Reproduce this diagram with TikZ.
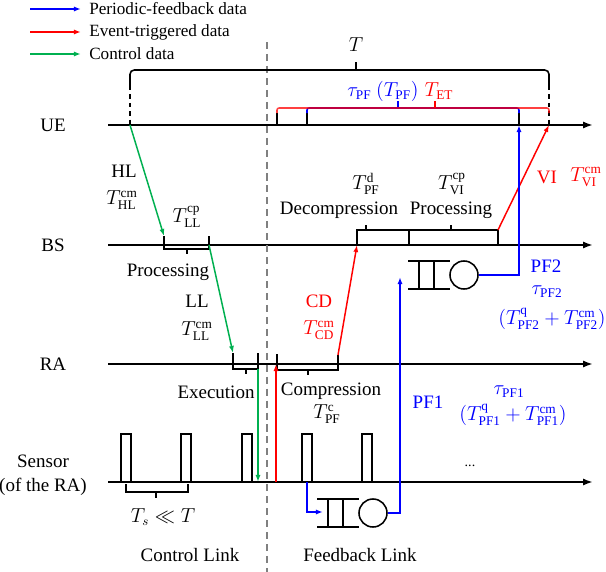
\documentclass[tikz,border=0pt]{standalone}
\usepackage{fontspec}
\setmainfont{Liberation Serif}
\usepackage{amsmath}
\usepackage{xcolor}
\usetikzlibrary{arrows.meta}
\definecolor{color_pf}{rgb}{0,0,1}
\definecolor{color_et}{rgb}{1,0,0}
\definecolor{color_ctl}{rgb}{0,0.690196,0.313725}
\definecolor{color_sep}{rgb}{0.5,0.5,0.5}

\begin{document}
\begin{tikzpicture}[x=0.025cm, y=-0.025cm,
		lbl/.style={inner sep=0pt, font=\fontsize{13.5}{17}\selectfont},
		leg/.style={anchor=west, inner sep=0pt, font=\fontsize{12.2}{14}\selectfont},
		timeline/.style={line width=1.4pt, -{Latex[length=7pt,width=5pt]}},
		tick/.style={line width=1.1pt},
		flow/.style={line width=1.05pt, -{Latex[length=5pt,width=3.6pt]}},
		server/.style={draw, circle, line width=1.1pt, minimum size=0.7cm, inner sep=0pt}]
		\useasboundingbox (0,0) rectangle (606,572);
		
		% Legende
		\node[leg] (legpf) at (89,9) {Periodic-feedback data};
		\node[leg] (leget) at (89,32) {Event-triggered data};
		\node[leg] (legctl) at (89,54) {Control data};
		\coordinate (lpf) at (30,9);
		\coordinate (let) at (30,32);
		\coordinate (lctl) at (30,54);
		\draw[flow, color_pf] (lpf) -- ([xshift=-0.2cm]legpf.west);
		\draw[flow, color_et] (let) -- ([xshift=-0.2cm]leget.west);
		\draw[flow, color_ctl] (lctl) -- ([xshift=-0.2cm]legctl.west);
		
		% Axes de temps
		\foreach \nm/\yy in {ue/125, bs/245, ra/364, sen/482}
		\draw[timeline] (108,\yy) coordinate (\nm0) -- (593,\yy) coordinate (\nm1);
		\node[lbl] (ue) at (53,125) {UE};
		\node[lbl] (bs) at (53,245) {BS};
		\node[lbl] (ra) at (53,364) {RA};
		\node[lbl, align=center] (sen) at (43,475) {Sensor\\(of the RA)};
		
		% Separation des liens
		\draw[color_sep, line width=1.1pt, dash pattern=on 5pt off 3.5pt] (267,42) -- (267,572);
		\node[lbl] (ctllink) at (190,555) {Control Link};
		\node[lbl] (fblink) at (360,555) {Feedback Link};
		
		% Periode T
		\draw[tick, rounded corners=3pt] (130,86) -- (130,70) -- (549,70) -- (549,86);
		\draw[tick] (356,70) -- (356,62);
		\draw[tick, dashed] (130,86) -- (130,125);
		\draw[tick, dashed] (549,86) -- (549,125);
		\node[lbl] (tper) at (356,45) {$T$};
		
		% Accolades PF et ET
		\foreach \xx in {277,307,519}
		\draw[tick] (\xx,125) -- (\xx,113);
		\draw[tick, color_pf, rounded corners=1.5pt] (307,113) -- (307,108) -- (519,108) -- (519,113);
		\draw[tick, color_pf] (398,108) -- (398,101);
		\draw[tick, color_et, opacity=0.75, rounded corners=1.5pt] (277,113) -- (277,108) -- (549,108) -- (549,113);
		\draw[tick, color_et] (435,108) -- (435,101);
		\node[lbl, color_pf] (taupf) at (383,91) {$\tau_{\mathrm{PF}}\ (T_{\mathrm{PF}})$};
		\node[lbl, color_et] (tet) at (439,91) {$T_{\mathrm{ET}}$};
		
		% Liaison de controle
		\coordinate (hlsrc) at (130,125);
		\coordinate (hldst) at (164,236);
		\coordinate (llsrc) at (209,245);
		\coordinate (lldst) at (233,353);
		\coordinate (exsrc) at (258,369);
		\coordinate (exdst) at (258,482);
		\draw[tick] (164,236) -- (164,249) -- (209,249) -- (209,236);
		\draw[tick] (187,249) -- (187,254);
		\draw[tick] (233,353) -- (233,369) -- (258,369) -- (258,353);
		\draw[tick] (246,369) -- (246,374);
		\draw[flow, color_ctl] (hlsrc) -- (hldst);
		\draw[flow, color_ctl] (llsrc) -- (lldst);
		\draw[flow, color_ctl] (exsrc) -- (exdst);
		\node[lbl] (hl) at (124,171) {HL};
		\node[lbl] (thl) at (122,200) {$T_{\mathrm{HL}}^{\mathrm{cm}}$};
		\node[lbl] (tllcp) at (187,217) {$T_{\mathrm{LL}}^{\mathrm{cp}}$};
		\node[lbl] (procll) at (168,272) {Processing};
		\node[lbl] (ll) at (197,301) {LL};
		\node[lbl] (tllcm) at (197,331) {$T_{\mathrm{LL}}^{\mathrm{cm}}$};
		\node[lbl] (exec) at (216,392) {Execution};
		
		% Capteur
		\foreach \px in {121,181,242,302,362}
		\draw[tick] (\px,482) -- (\px,434) -- (\px+10,434) -- (\px+10,482);
		\draw[tick] (126,484) -- (126,492) -- (188,492) -- (188,484);
		\draw[tick] (156,492) -- (156,498);
		\node[lbl] (ts) at (163,517) {$T_s \ll T$};
		\node[inner sep=0pt, font=\fontsize{10}{12}\selectfont] (dots) at (470,466) {...};
		
		% Liaison evenementielle
		\coordinate (etsrc) at (276,482);
		\coordinate (etdst) at (276,364);
		\coordinate (cdsrc) at (338,355);
		\coordinate (cddst) at (357,245);
		\coordinate (visrc) at (498,230);
		\coordinate (vidst) at (549,125);
		\draw[tick] (277,354) -- (277,370) -- (338,370) -- (338,355);
		\draw[tick] (308,370) -- (308,375);
		\draw[tick] (357,245) -- (357,230) -- (409,230) -- (409,245);
		\draw[tick] (366,230) -- (366,225);
		\draw[tick] (409,230) -- (498,230) -- (498,245);
		\draw[tick] (451,230) -- (451,225);
		\draw[flow, color_et] (etsrc) -- (etdst);
		\draw[flow, color_et] (cdsrc) -- (cddst);
		\draw[flow, color_et] (visrc) -- (vidst);
		\node[lbl] (comp) at (331,391) {Compression};
		\node[lbl] (tpfc) at (327,414) {$T_{\mathrm{PF}}^{\mathrm{c}}$};
		\node[lbl, color_et] (cd) at (319,301) {CD};
		\node[lbl, color_et] (tcd) at (319,330) {$T_{\mathrm{CD}}^{\mathrm{cm}}$};
		\node[lbl] (decomp) at (339,210) {Decompression};
		\node[lbl] (tpfd) at (366,184) {$T_{\mathrm{PF}}^{\mathrm{d}}$};
		\node[lbl] (procvi) at (451,210) {Processing};
		\node[lbl] (tvicp) at (452,184) {$T_{\mathrm{VI}}^{\mathrm{cp}}$};
		\node[lbl, color_et] (vi) at (547,177) {VI};
		\node[lbl, color_et] (tvicm) at (586,177) {$T_{\mathrm{VI}}^{\mathrm{cm}}$};
		
		% Files d'attente
		\node[server] (qsen) at (373,513) {};
		\draw[tick] (317,499) -- (359,499);
		\draw[tick] (317,527) -- (359,527);
		\foreach \xx in {328,343} \draw[tick] (\xx,499) -- (\xx,527);
		\node[server] (qbs) at (464,275) {};
		\draw[tick] (408,261) -- (450,261);
		\draw[tick] (408,289) -- (450,289);
		\foreach \xx in {419,434} \draw[tick] (\xx,261) -- (\xx,289);
		
		% Liaison periodique
		\coordinate (pfsrc) at (307,482);
		\coordinate (pfin) at (323,512);
		\coordinate (pf1dst) at (400,277);
		\coordinate (pf2dst) at (519,125);
		\draw[flow, color_pf] (pfsrc) |- (pfin);
		\draw[flow, color_pf] (qsen.east) -| (pf1dst);
		\draw[flow, color_pf] (qbs.east) -| (pf2dst);
		\node[lbl, color_pf] (pf1) at (428,402) {PF1};
		\node[lbl, color_pf] (taupf1) at (509,392) {$\tau_{\mathrm{PF1}}$};
		\node[lbl, color_pf] (tpf1) at (513,415) {$(T_{\mathrm{PF1}}^{\mathrm{q}}+T_{\mathrm{PF1}}^{\mathrm{cm}})$};
		\node[lbl, color_pf] (pf2) at (546,266) {PF2};
		\node[lbl, color_pf] (taupf2) at (547,292) {$\tau_{\mathrm{PF2}}$};
		\node[lbl, color_pf] (tpf2) at (552,319) {$(T_{\mathrm{PF2}}^{\mathrm{q}}+T_{\mathrm{PF2}}^{\mathrm{cm}})$};
	\end{tikzpicture}
\end{document}
